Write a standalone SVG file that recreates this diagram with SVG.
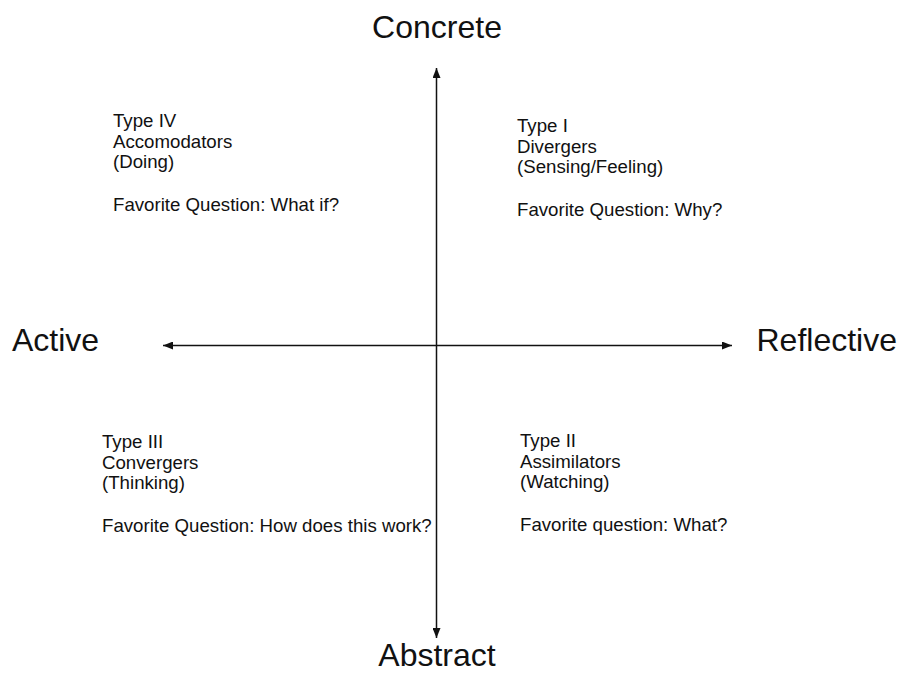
<svg xmlns="http://www.w3.org/2000/svg" width="900" height="675" viewBox="0 0 900 675">
  <defs>
    <marker id="arrow" markerUnits="userSpaceOnUse" markerWidth="10" markerHeight="8" refX="10" refY="4" orient="auto-start-reverse">
      <path d="M0,0 L10,4 L0,8 Z" fill="#111"/>
    </marker>
    <style>
      .axis { font-family: "Liberation Sans", Arial, sans-serif; font-size: 32px; fill: #111; }
      .body { font-family: "Liberation Sans", Arial, sans-serif; font-size: 18.67px; fill: #111; }
      .line { stroke: #111; stroke-width: 1.5; fill: none; }
    </style>
  </defs>
  <rect width="900" height="675" fill="#fff"/>

  <g id="connectors">
    <line class="line" x1="436.5" y1="68" x2="436.5" y2="638" marker-start="url(#arrow)" marker-end="url(#arrow)"/>
    <line class="line" x1="163" y1="345.5" x2="732" y2="345.5" marker-start="url(#arrow)" marker-end="url(#arrow)"/>
  </g>

  <g id="label-concrete"><text class="axis" x="437" y="38" text-anchor="middle">Concrete</text></g>
  <g id="label-abstract"><text class="axis" x="437" y="666" text-anchor="middle">Abstract</text></g>
  <g id="label-active"><text class="axis" x="12" y="351">Active</text></g>
  <g id="label-reflective"><text class="axis" x="897" y="351" text-anchor="end">Reflective</text></g>

  <g id="type-iv">
    <text class="body" x="113" y="127">Type IV</text>
    <text class="body" x="113" y="148">Accomodators</text>
    <text class="body" x="113" y="168">(Doing)</text>
    <text class="body" x="113" y="211">Favorite Question: What if?</text>
  </g>

  <g id="type-i">
    <text class="body" x="517" y="132">Type I</text>
    <text class="body" x="517" y="153">Divergers</text>
    <text class="body" x="517" y="173">(Sensing/Feeling)</text>
    <text class="body" x="517" y="216">Favorite Question: Why?</text>
  </g>

  <g id="type-iii">
    <text class="body" x="102" y="448">Type III</text>
    <text class="body" x="102" y="469">Convergers</text>
    <text class="body" x="102" y="489">(Thinking)</text>
    <text class="body" x="102" y="532">Favorite Question: How does this work?</text>
  </g>

  <g id="type-ii">
    <text class="body" x="520" y="447">Type II</text>
    <text class="body" x="520" y="468">Assimilators</text>
    <text class="body" x="520" y="488">(Watching)</text>
    <text class="body" x="520" y="531">Favorite question: What?</text>
  </g>
</svg>
